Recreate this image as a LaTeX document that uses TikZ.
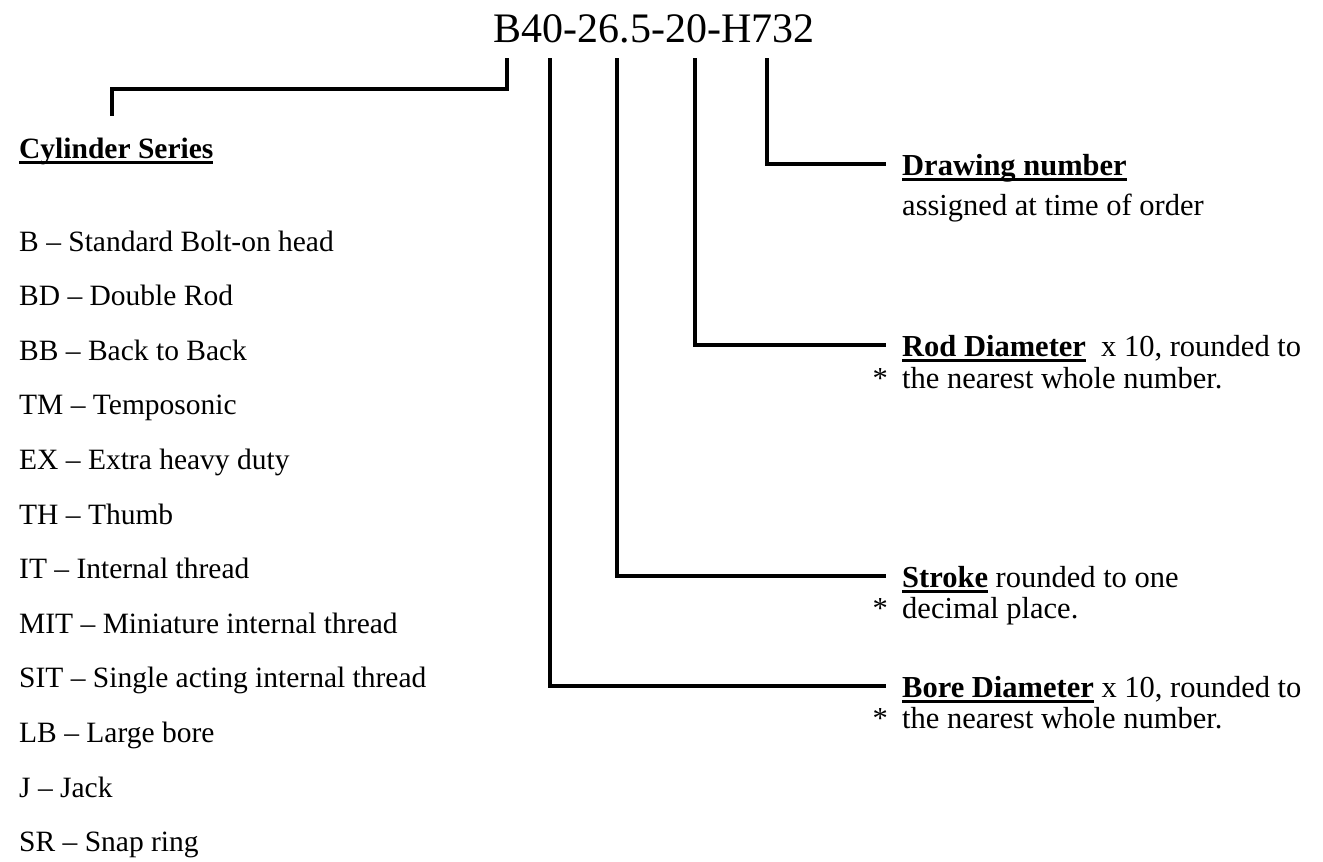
\documentclass[tikz,border=0pt]{standalone}
\usepackage{fontspec}
\setmainfont{Liberation Serif}
\usetikzlibrary{calc}
\newcommand\undl[1]{\setbox0=\hbox{#1}\rlap{\rule[-5.5pt]{\wd0}{3pt}}\box0\relax}
\tikzset{
  title/.style={anchor=base,inner sep=0pt,font=\fontsize{42}{48}\selectfont},
  label/.style={anchor=base west,inner sep=0pt,font=\fontsize{30.5}{36}\selectfont},
  item/.style={label,font=\fontsize{29.5}{36}\selectfont},
  lead/.style={draw,line width=3.5pt},
}

\begin{document}
\begin{tikzpicture}[x=1pt,y=-1pt]
\useasboundingbox[fill=white] (0,0) rectangle (1323,862);
\node[title,name=code] at (654,42) {B40-26.5-20-H732};
% tops of the leads, just under the code
\foreach \part/\x in {series/507, bore/550, stroke/617, rod/695, drawing/767}
{
  \coordinate (\part-top) at (\x,58);
}

% left column
\node[item,name=series] at (19,158) {\undl{\textbf{Cylinder Series}}};
\coordinate (series-knee) at (112,89);
\coordinate (series-foot) at (112,116);
\foreach \code/\what [count=\i] in {B/Standard Bolt-on head, BD/Double Rod,
  BB/Back to Back, TM/Temposonic, EX/Extra heavy duty, TH/Thumb,
  IT/Internal thread, MIT/Miniature internal thread,
  SIT/Single acting internal thread, LB/Large bore, J/Jack, SR/Snap ring}
{
  \node[item,name=item-\i] at (19,{251+54.6*(\i-1)}) {\code~--~\what};
}

% right column
\node[label,name=drawing] at (902,175) {\undl{\textbf{Drawing number}}};
\node[label,name=drawing-note] at ([yshift=-40pt]drawing.base west) {assigned at time of order};

\node[label,name=rod] at (902,356) {\undl{\textbf{Rod Diameter}}\ \ x 10, rounded to};
\node[label,name=rod-note] at ([yshift=-32pt]rod.base west) {the nearest whole number.};
\node[label,anchor=base east,name=rod-star] at ([xshift=-14pt]rod-note.base west) {*};

\node[label,name=stroke] at (902,587) {\undl{\textbf{Stroke}} rounded to one};
\node[label,name=stroke-note] at ([yshift=-31pt]stroke.base west) {decimal place.};
\node[label,anchor=base east,name=stroke-star] at ([xshift=-14pt]stroke-note.base west) {*};

\node[label,name=bore] at (902,697) {\undl{\textbf{Bore Diameter}} x 10, rounded to};
\node[label,name=bore-note] at ([yshift=-31pt]bore.base west) {the nearest whole number.};
\node[label,anchor=base east,name=bore-star] at ([xshift=-14pt]bore-note.base west) {*};

% leads
\draw[lead] (series-top) |- (series-knee) -- (series-foot);
\foreach \part in {drawing, rod, stroke, bore}
{
  \draw[lead] (\part-top) |- ([shift={(-16pt,11pt)}]\part.base west);
}
\end{tikzpicture}
\end{document}
